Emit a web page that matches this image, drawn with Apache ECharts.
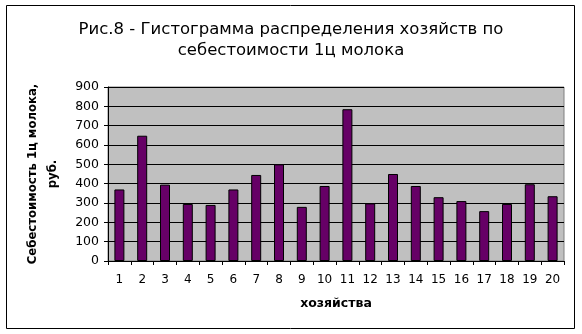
<!DOCTYPE html>
<html><head><meta charset="utf-8">
<script src="https://cdn.jsdelivr.net/npm/echarts@6/dist/echarts.min.js"></script>
<style>html,body{margin:0;padding:0;background:#fff}#c{width:582px;height:334px}</style>
</head><body><div id="c"></div>
<script>
const categories = ['1','2','3','4','5','6','7','8','9','10','11','12','13','14','15','16','17','18','19','20'];
const costValues = [370, 648, 395, 295, 290, 370, 445, 500, 280, 388, 785, 298, 450, 388, 330, 310, 258, 295, 397, 335];
const yTicks = [0, 100, 200, 300, 400, 500, 600, 700, 800, 900];
const titleText = 'Рис.8 - Гистограмма распределения хозяйств по\nсебестоимости 1ц молока';
const yName = 'Себестоимость 1ц молока,\nруб.';
const xName = 'хозяйства';

const chart = echarts.init(document.getElementById('c'), null, {renderer: 'canvas'});
const font = '"DejaVu Sans", Arial, sans-serif';
chart.setOption({
  animation: false,
  backgroundColor: '#fff',
  graphic: [{
    type: 'rect', shape: {x: 6.5, y: 5.5, width: 568, height: 323},
    style: {fill: 'none', stroke: '#000', lineWidth: 1}, z: 100
  }, {
    type: 'rect', shape: {x: 108, y: 87, width: 456, height: 174},
    style: {fill: '#c0c0c0', stroke: '#808080', lineWidth: 1}, z: -1
  }],
  title: {
    text: titleText, left: 'center', top: 14,
    textStyle: {fontFamily: font, fontSize: 16.5, fontWeight: 'normal', color: '#000', lineHeight: 21}
  },
  grid: {left: 108, right: 18, top: 87, bottom: 73, containLabel: false},
  xAxis: {
    type: 'category', data: categories,
    name: xName, nameLocation: 'middle', nameGap: 36,
    nameTextStyle: {fontFamily: font, fontSize: 12.5, fontWeight: 'bold', color: '#000'},
    axisLine: {lineStyle: {color: '#000', width: 1}},
    axisTick: {show: true, alignWithLabel: false, length: 4, lineStyle: {color: '#000'}},
    axisLabel: {fontFamily: font, fontSize: 12, color: '#000', margin: 13, interval: 0}
  },
  yAxis: {
    type: 'value', min: 0, max: 900, interval: 100,
    name: yName, nameLocation: 'middle', nameRotate: 90, nameGap: 45, nameMoveOverlap: false,
    nameTextStyle: {fontFamily: font, fontSize: 11.7, fontWeight: 'bold', color: '#000', lineHeight: 20},
    axisLine: {show: true, lineStyle: {color: '#000', width: 1}},
    axisTick: {show: true, length: 4, lineStyle: {color: '#000'}},
    axisLabel: {fontFamily: font, fontSize: 12.5, color: '#000', margin: 9,
      formatter: v => yTicks.includes(v) ? String(v) : ''},
    splitLine: {show: true, lineStyle: {color: '#000', width: 1}}
  },
  series: [{
    type: 'bar', data: costValues, barWidth: 10,
    itemStyle: {color: '#660066', borderColor: '#000', borderWidth: 1}
  }]
});
</script></body></html>
